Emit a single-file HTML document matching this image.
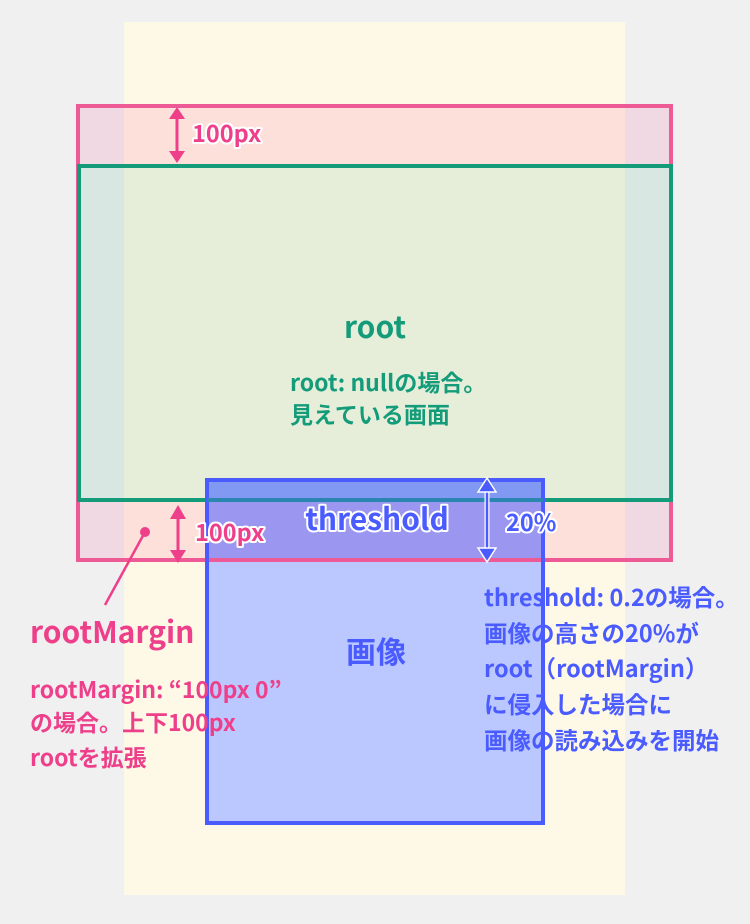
<!DOCTYPE html>
<html><head><meta charset="utf-8"><style>
body{margin:0;background:#f0f0f0;}
svg text{font-family:"Noto Sans CJK JP","Liberation Sans",sans-serif;font-weight:700;}
</style></head><body>
<svg width="750" height="919" viewBox="0 0 750 919" xmlns="http://www.w3.org/2000/svg">
<rect x="0" y="0" width="750" height="919" fill="#f0f0f0"/>
<rect x="124" y="22" width="501" height="873" fill="#fef8e6"/>
<rect x="78" y="106" width="593" height="454" fill="rgba(240,90,150,0.15)"/>
<rect x="78" y="166" width="593" height="334" fill="#f0f0f0"/>
<rect x="124" y="166" width="501" height="334" fill="#fef8e6"/>
<rect x="78" y="166" width="593" height="334" fill="rgba(20,156,122,0.1)"/>
<rect x="207" y="480" width="336" height="343" fill="#bbc8ff"/>
<rect x="207" y="480" width="336" height="21" fill="#8299f4"/>
<rect x="207" y="501" width="336" height="59" fill="#9b97f0"/>
<rect x="78" y="106" width="593" height="454" fill="none" stroke="#ee5a96" stroke-width="4"/>
<rect x="79" y="166" width="592" height="334" fill="none" stroke="#149c7a" stroke-width="4"/>
<rect x="207" y="480" width="336" height="343" fill="none" stroke="#4a5bff" stroke-width="4"/>
<line x1="207" y1="500" x2="543" y2="500" stroke="#2a85b0" stroke-width="4"/>
<g fill="#ee3f8a">
<line x1="177" y1="110" x2="177" y2="160" stroke="#ee3f8a" stroke-width="3"/>
<polygon points="169,119 177,107 185,119"/>
<polygon points="169,151 177,163 185,151"/>
<line x1="178" y1="510" x2="178" y2="558" stroke="#ee3f8a" stroke-width="3"/>
<polygon points="170,519 178,505 186,519"/>
<polygon points="170,550 178,563 186,550"/>
</g>
<g fill="#4a5bff">
<line x1="487" y1="482" x2="487" y2="556" stroke="#fff" stroke-width="5"/>
<line x1="487" y1="482" x2="487" y2="556" stroke="#4a5bff" stroke-width="2.5"/>
<polygon points="478,492 487,478 496,492" stroke="#fff" stroke-width="1.5"/>
<polygon points="478,548 487,562 496,548" stroke="#fff" stroke-width="1.5"/>
</g>
<line x1="145" y1="532" x2="105" y2="605" stroke="#ee3f8a" stroke-width="2.5"/>
<circle cx="145" cy="532" r="5" fill="#ee3f8a"/>
<g paint-order="stroke" stroke="#fff" stroke-width="4" stroke-linejoin="round">
<text x="192" y="142" font-size="23.5" fill="#ee3f8a">100px</text>
<text x="195" y="541" font-size="23.5" fill="#ee3f8a">100px</text>
<text x="377" y="530" font-size="30" fill="#4a5bff" text-anchor="middle">threshold</text>
<text x="506" y="531" font-size="23.5" fill="#4a5bff">20%</text>
</g>
<text x="375" y="338" font-size="30" fill="#149c7a" text-anchor="middle">root</text>
<text x="290" y="391" font-size="23" fill="#149c7a">root: nullの場合。</text>
<text x="290" y="423" font-size="23" fill="#149c7a">見えている画面</text>
<text x="376" y="663" font-size="30" fill="#4a5bff" text-anchor="middle">画像</text>
<text x="30" y="643" font-size="30" fill="#ee3f8a">rootMargin</text>
<text x="30" y="698" font-size="23" fill="#ee3f8a">rootMargin: “100px  0”</text>
<text x="30" y="731" font-size="23" fill="#ee3f8a">の場合。上下100px</text>
<text x="30" y="766" font-size="23" fill="#ee3f8a">rootを拡張</text>
<g font-size="23.5" fill="#4a5bff">
<text x="484" y="606">threshold: 0.2の場合。</text>
<text x="484" y="642">画像の高さの20%が</text>
<text x="484" y="677">root（rootMargin）</text>
<text x="484" y="713">に侵入した場合に</text>
<text x="484" y="749">画像の読み込みを開始</text>
</g>
</svg>
</body></html>
